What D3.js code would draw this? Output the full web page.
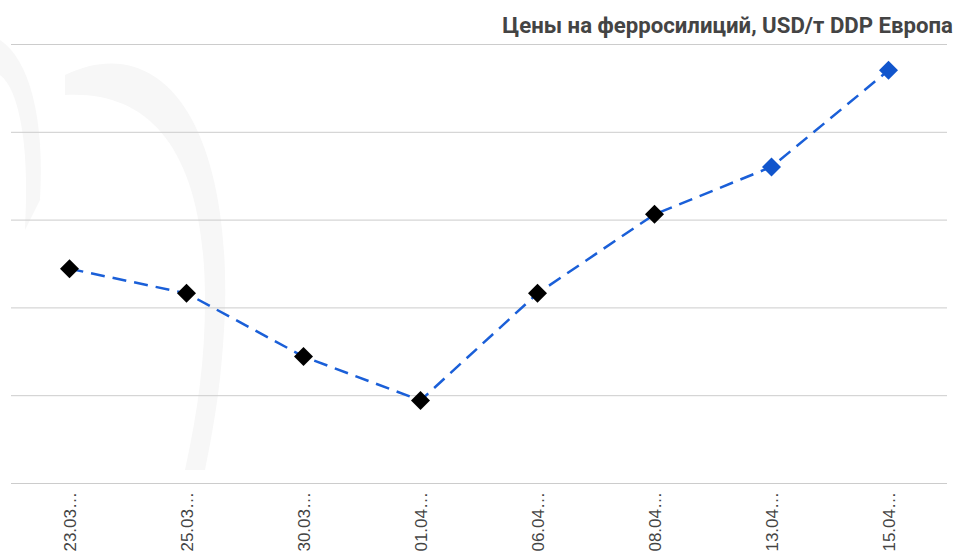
<!DOCTYPE html>
<html>
<head>
<meta charset="utf-8">
<script src="https://cdn.jsdelivr.net/npm/d3@7"></script>
<style>
  html, body { margin: 0; padding: 0; background: #fff; }
  svg { display: block; font-family: Roboto, "Noto Sans", sans-serif; }
</style>
</head>
<body>
<div id="chart"></div>
<script>
// values (no y labels shown, scale is approximate)
const dates = ['23.03…', '25.03…', '30.03…', '01.04…', '06.04…', '08.04…', '13.04…', '15.04…']
const prices = [1472, 1458, 1422, 1397, 1458, 1503, 1530, 1585]
const gridTicks = [1350, 1400, 1450, 1500, 1550, 1600]
const title = 'Цены на ферросилиций, USD/т DDP Европа'
const highlightFrom = 6   // last points drawn in blue

const width = 957,
    height = 556

const margin = ({
    top: 44,
    right: 10,
    bottom: 73,
    left: 11
})

const svg = d3.select('#chart').append('svg')
    .attr('width', width)
    .attr('height', height)

// faint logo arcs of the watermark
const wm = svg.append('g').attr('fill', '#f7f7f7')
wm.append('path')
    .attr('d', 'M65,75 C160,30 230,120 225,310 C222,380 215,420 205,470 L185,470 C198,410 205,360 205,300 C205,150 150,90 65,95 Z')
wm.append('path')
    .attr('d', 'M0,40 C30,60 45,120 40,200 L25,230 C30,150 20,90 0,75 Z')

const x = d3.scalePoint()
    .domain(dates)
    .range([margin.left, width - margin.right])
    .padding(0.5)

const y = d3.scaleLinear()
    .domain([gridTicks[0], gridTicks[gridTicks.length - 1]])
    .range([height - margin.bottom, margin.top])

// gridlines
svg.append('g')
    .attr('transform', `translate(${margin.left},0)`)
    .call(d3.axisRight(y).tickValues(gridTicks).tickSize(width - margin.left - margin.right).tickFormat(''))
    .call(g => g.select('.domain').remove())
    .call(g => g.selectAll('.tick line').attr('stroke', '#cccccc'))

// x labels, rotated
svg.append('g')
    .attr('transform', `translate(0,${height - margin.bottom})`)
    .call(d3.axisBottom(x).tickSize(0).tickPadding(0))
    .call(g => g.select('.domain').remove())
    .call(g => g.selectAll('.tick text')
        .attr('transform', 'rotate(-90)')
        .attr('text-anchor', 'end')
        .attr('dx', '-9')
        .attr('dy', '0.35em')
        .attr('y', 0)
        .attr('x', 0)
        .attr('font-size', 17)
        .attr('font-family', 'Arial, "Liberation Sans", sans-serif')
        .attr('fill', '#444'))

// dashed line
const line = d3.line()
    .x((d, i) => x(dates[i]))
    .y(d => y(d))

svg.append('path')
    .datum(prices)
    .attr('fill', 'none')
    .attr('stroke', '#1a5fd8')
    .attr('stroke-width', 2.5)
    .attr('stroke-dasharray', '14,8')
    .attr('d', line)

// diamond markers
const diamond = d3.symbol().type(d3.symbolSquare).size(180)
svg.append('g')
    .selectAll('path')
    .data(prices)
    .join('path')
    .attr('d', diamond)
    .attr('transform', (d, i) => `translate(${x(dates[i])},${y(d)}) rotate(45)`)
    .attr('fill', (d, i) => i >= highlightFrom ? '#1155cc' : '#000')

// title
svg.append('text')
    .attr('x', 953)
    .attr('y', 33)
    .attr('text-anchor', 'end')
    .attr('font-size', 22.2)
    .attr('font-weight', 'bold')
    .attr('fill', '#444')
    .text(title)
</script>
</body>
</html>
